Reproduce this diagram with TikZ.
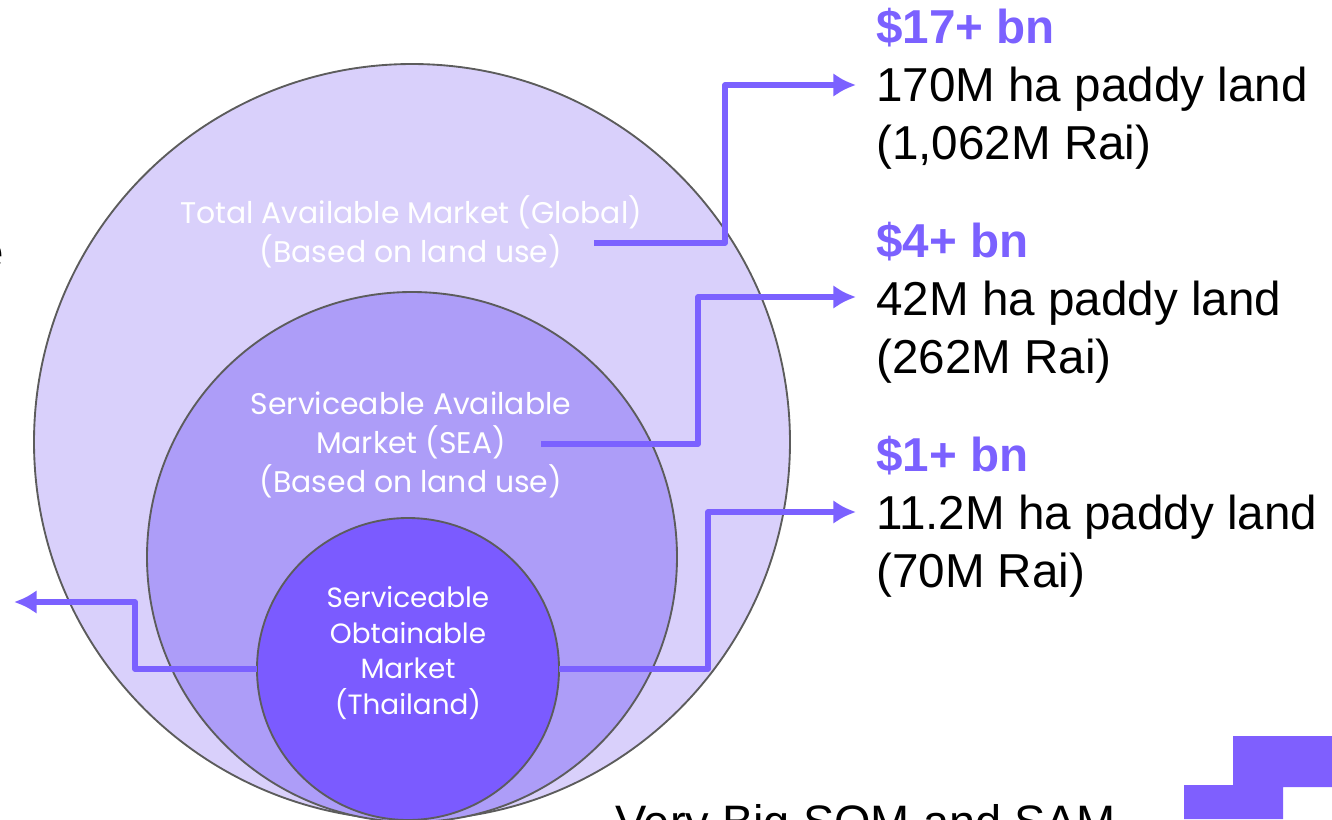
\documentclass[tikz,border=0pt]{standalone}
\usepackage{fontspec}
\usetikzlibrary{arrows.meta}
\setmainfont{Liberation Sans}
\newfontfamily\circlefont{Poppins}
\definecolor{tamfill}{HTML}{D9D0FB}
\definecolor{samfill}{HTML}{AD9DF8}
\definecolor{somfill}{HTML}{7B5BFF}
\definecolor{arrowcol}{HTML}{7B61FF}
\definecolor{logocol}{HTML}{7F5FFE}
\definecolor{ringcol}{HTML}{5C5C5C}
\begin{document}
\begin{tikzpicture}[x=0.75pt,y=-0.75pt]
        \tikzstyle{market}=[circle,draw=ringcol,line width=1.4pt,inner sep=0pt,outer sep=0pt]
        \tikzstyle{marketlabel}=[text=white,align=center,inner sep=0pt,font=\circlefont\fontsize{22.4}{29}\selectfont]
        \tikzstyle{solabel}=[text=white,align=center,inner sep=0pt,font=\circlefont\fontsize{20.9}{26.6}\selectfont]
        \tikzstyle{figures}=[align=left,anchor=base west,inner sep=0pt,font=\fontsize{35.7}{43.5}\selectfont]
        \tikzstyle{edge}=[draw=arrowcol,line width=4.2pt,-{Latex[length=17pt,width=18pt]},line join=round]
        \useasboundingbox (0,0) rectangle (1332,819);
        \clip (0,0) rectangle (1332,819);
        \node [market,fill=tamfill,minimum size=567pt] (tam) at (412,442) {};
        \node [market,fill=samfill,minimum size=397.5pt] (sam) at (412,557) {};
        \node [market,fill=somfill,minimum size=226.5pt] (som) at (408,669) {};
        \node [marketlabel] (tamtext) at (411,232) {Total Available Market (Global)\\(Based on land use)};
        \node [marketlabel] (samtext) at (411,445) {Serviceable Available\\Market (SEA)\\(Based on land use)};
        \node [solabel] (somtext) at (408,653) {Serviceable\\Obtainable\\Market\\(Thailand)};
        \node [figures] (tamfig) at (876,159) {\textcolor{arrowcol}{\textbf{\$17+ bn}}\\170M ha paddy land\\(1,062M Rai)};
        \node [figures] (samfig) at (876,373) {\textcolor{arrowcol}{\textbf{\$4+ bn}}\\42M ha paddy land\\(262M Rai)};
        \node [figures] (somfig) at (876,587) {\textcolor{arrowcol}{\textbf{\$1+ bn}}\\11.2M ha paddy land\\(70M Rai)};
        \node [figures,anchor=base east] (cutword) at (4,268) {e};
        \node [figures,font=\fontsize{35.2}{43.5}\selectfont] (bottomnote) at (615,838) {Very Big SOM and SAM};
        \coordinate (tamstart) at (594,243);
        \coordinate (tamend) at (856,85);
        \coordinate (samstart) at (541,444);
        \coordinate (samend) at (856,297);
        \coordinate (somend) at (856,512);
        \coordinate (leftend) at (14,602);
        \path[edge] (tamstart) -- ++(131,0) |- (tamend);
        \path[edge] (samstart) -- ++(157,0) |- (samend);
        \path[edge] (som.east) -- ++(149,0) |- (somend);
        \path[edge] (som.west) -- ++(-122,0) |- (leftend);
        \fill[logocol] (1233,736) -- (1332,736) -- (1332,787) -- (1283,787) -- (1283,819) -- (1184,819) -- (1184,785) -- (1233,785) -- cycle;
\end{tikzpicture}
\end{document}
